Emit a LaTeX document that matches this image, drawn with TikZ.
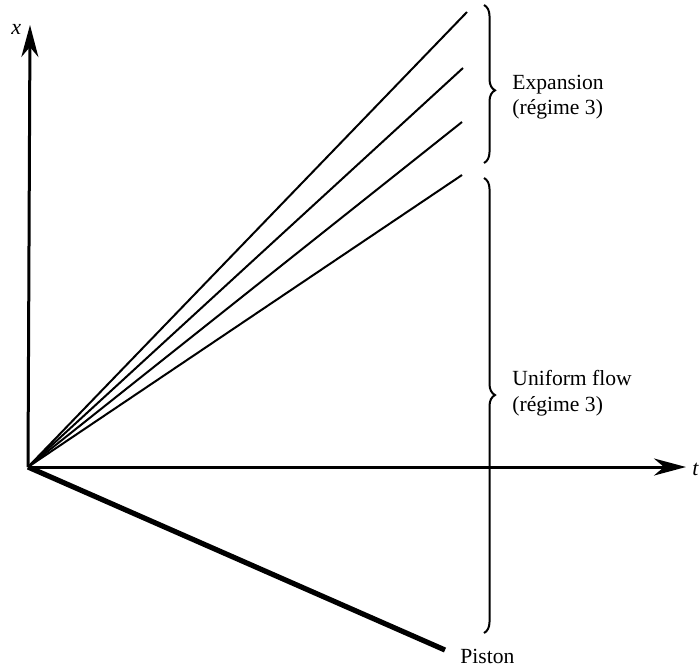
\documentclass[tikz,border=0pt]{standalone}
\usepackage{fontspec}
\setmainfont{Liberation Serif}
\usetikzlibrary{arrows.meta,decorations.pathreplacing}
\begin{document}
\begin{tikzpicture}[x=0.5pt,y=-0.5pt,
  axis/.style={line width=1.5pt,-{Stealth[length=16pt,width=8.5pt,inset=5pt]}},
  ray/.style={line width=1pt},
  piston/.style={line width=2.6pt},
  bracedec/.style={line width=1pt,decorate,decoration={brace,amplitude=5.5pt,aspect=#1}},
  lbl/.style={font=\fontsize{10.8}{12.8}\selectfont,align=left,anchor=west,inner sep=0pt}]
\useasboundingbox (0,0) rectangle (700,671);
\coordinate (O) at (28,467);
\coordinate (xtip) at (30,25);
\coordinate (ttip) at (686,467);
\coordinate (e1) at (467,12);
\coordinate (e2) at (463,68);
\coordinate (e3) at (462,122);
\coordinate (e4) at (462,175);
\coordinate (p) at (445,650);
\coordinate (b1t) at (484,5);
\coordinate (b1b) at (484,163);
\coordinate (b2t) at (484,178);
\coordinate (b2b) at (484,633);
\draw[axis] (O) -- (xtip);
\draw[axis] (O) -- (ttip);
\draw[ray] (O) -- (e1);
\draw[ray] (O) -- (e2);
\draw[ray] (O) -- (e3);
\draw[ray] (O) -- (e4);
\draw[piston] (O) -- (p);
\draw[bracedec=0.54] (b1t) -- (b1b);
\draw[bracedec=0.477] (b2t) -- (b2b);
\node[lbl,font=\fontsize{11}{13}\selectfont\itshape] (xl) at (11,29) {x};
\node[lbl,font=\fontsize{11}{13}\selectfont\itshape] (tl) at (692,469) {t};
\node[lbl] (exp) at (512,97) {Expansion\\(régime 3)};
\node[lbl] (uni) at (512,393) {Uniform flow\\(régime 3)};
\node[lbl] (pis) at (460,656) {Piston};
\end{tikzpicture}
\end{document}
